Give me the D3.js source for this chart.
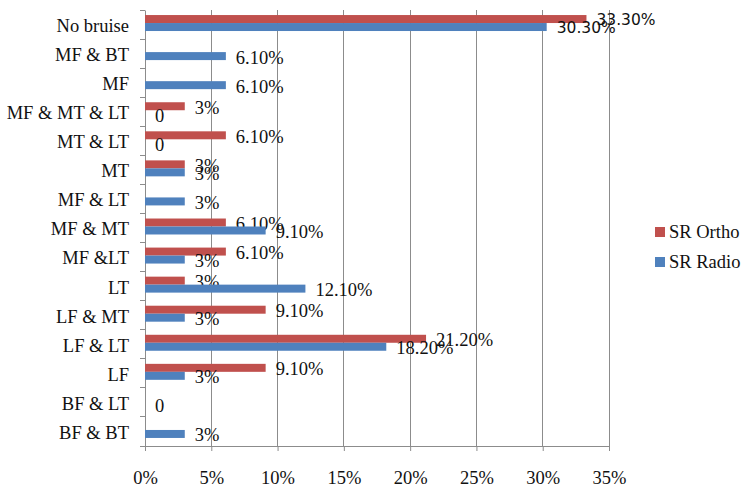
<!DOCTYPE html>
<html><head><meta charset="utf-8">
<script src="https://cdn.jsdelivr.net/npm/d3@7"></script>
<style>html,body{margin:0;padding:0;background:#fff;}svg{display:block;}</style>
</head><body>
<svg id="chart" width="750" height="497"></svg>
<script>
const categories = ["No bruise","MF & BT","MF","MF & MT & LT","MT & LT","MT","MF & LT","MF & MT","MF &LT","LT","LF & MT","LF & LT","LF","BF & LT","BF & BT"];
const seriesNames = ["SR Ortho","SR Radio"];
const orthoValues = [33.3, null, null, 3, 6.1, 3, null, 6.1, 6.1, 3, 9.1, 21.2, 9.1, null, null];
const radioValues = [30.3, 6.1, 6.1, 0, 0, 3, 3, 9.1, 3, 12.1, 3, 18.2, 3, 0, 3];
const xTicks = [0, 5, 10, 15, 20, 25, 30, 35];
const colors = ["#C0504D", "#4F81BD"];

(function () {
const svg = d3.select("#chart");
const pl = 145, pr = 609, pt = 10, pb = 446;
const SERIF = "Liberation Serif";
const SANS = "DejaVu Sans";

const x = d3.scaleLinear().domain([0, 35]).range([pl, pr]);
const y = d3.scaleBand().domain(categories).range([pt, pb]).padding(0);
const yInner = d3.scaleBand().domain(seriesNames).range([-1.5, y.bandwidth() - 1.5]).paddingInner(0).paddingOuter(0.82);

// gridlines
svg.append("g").selectAll("line").data(xTicks.filter(d => d > 0)).join("line")
  .attr("x1", d => x(d)).attr("x2", d => x(d)).attr("y1", pt).attr("y2", pb)
  .attr("stroke", "#8c8c8c").attr("stroke-width", 1).attr("shape-rendering", "crispEdges");

// x axis
const xAxis = svg.append("g").attr("transform", `translate(0,${pb})`)
  .call(d3.axisBottom(x).tickValues(xTicks).tickSize(5).tickPadding(20).tickFormat(d => d + "%"));
xAxis.attr("font-family", SERIF).attr("font-size", 18.5);
xAxis.select(".domain").attr("stroke", "#8c8c8c");
xAxis.selectAll(".tick line").attr("stroke", "#8c8c8c");
xAxis.selectAll("text").attr("fill", "#111").attr("font-family", SERIF).attr("font-size", 18.5);

// y axis
const yAxis = svg.append("g").attr("transform", `translate(${pl},0)`)
  .call(d3.axisLeft(y).tickSize(0).tickPadding(16));
yAxis.attr("font-family", SERIF).attr("font-size", 18.5);
yAxis.select(".domain").attr("stroke", "#8c8c8c");
yAxis.selectAll("text").attr("fill", "#111").attr("dy", "0.4em").attr("font-family", SERIF).attr("font-size", 18.5);
// boundary ticks
svg.append("g").selectAll("line").data(d3.range(categories.length + 1)).join("line")
  .attr("x1", pl - 5).attr("x2", pl)
  .attr("y1", i => pt + i * y.step()).attr("y2", i => pt + i * y.step())
  .attr("stroke", "#8c8c8c").attr("shape-rendering", "crispEdges");

const fmt = v => v === 0 ? "0" : (Number.isInteger(v) ? v + "%" : v.toFixed(2) + "%");

const allSeries = [orthoValues, radioValues];
allSeries.forEach((vals, si) => {
  const data = categories.map((c, i) => ({c, v: vals[i], i})).filter(d => d.v !== null);
  const g = svg.append("g");
  g.selectAll("rect").data(data).join("rect")
    .attr("x", x(0))
    .attr("y", d => y(d.c) + yInner(seriesNames[si]))
    .attr("width", d => x(d.v) - x(0))
    .attr("height", yInner.bandwidth())
    .attr("fill", colors[si]);
  g.selectAll("text").data(data).join("text")
    .attr("x", d => x(d.v) + 10)
    .attr("y", d => y(d.c) + yInner(seriesNames[si]) + yInner.bandwidth() / 2 + 1)
    .attr("dy", "0.35em")
    .attr("font-family", d => d.i === 0 ? SANS : SERIF)
    .attr("font-size", d => d.i === 0 ? 15.5 : 18.5)
    .attr("fill", "#111")
    .text(d => fmt(d.v));
});

// legend
const legend = svg.append("g").attr("transform", "translate(655,232)");
seriesNames.forEach((s, i) => {
  const row = legend.append("g").attr("transform", `translate(0,${i * 30})`);
  row.append("rect").attr("x", 0).attr("y", -5).attr("width", 10).attr("height", 10).attr("fill", colors[i]);
  row.append("text").attr("x", 14).attr("y", 0).attr("dy", "0.35em")
    .attr("font-family", SERIF).attr("font-size", 18.5).attr("fill", "#111").text(s);
});
})();
</script>
</body></html>
